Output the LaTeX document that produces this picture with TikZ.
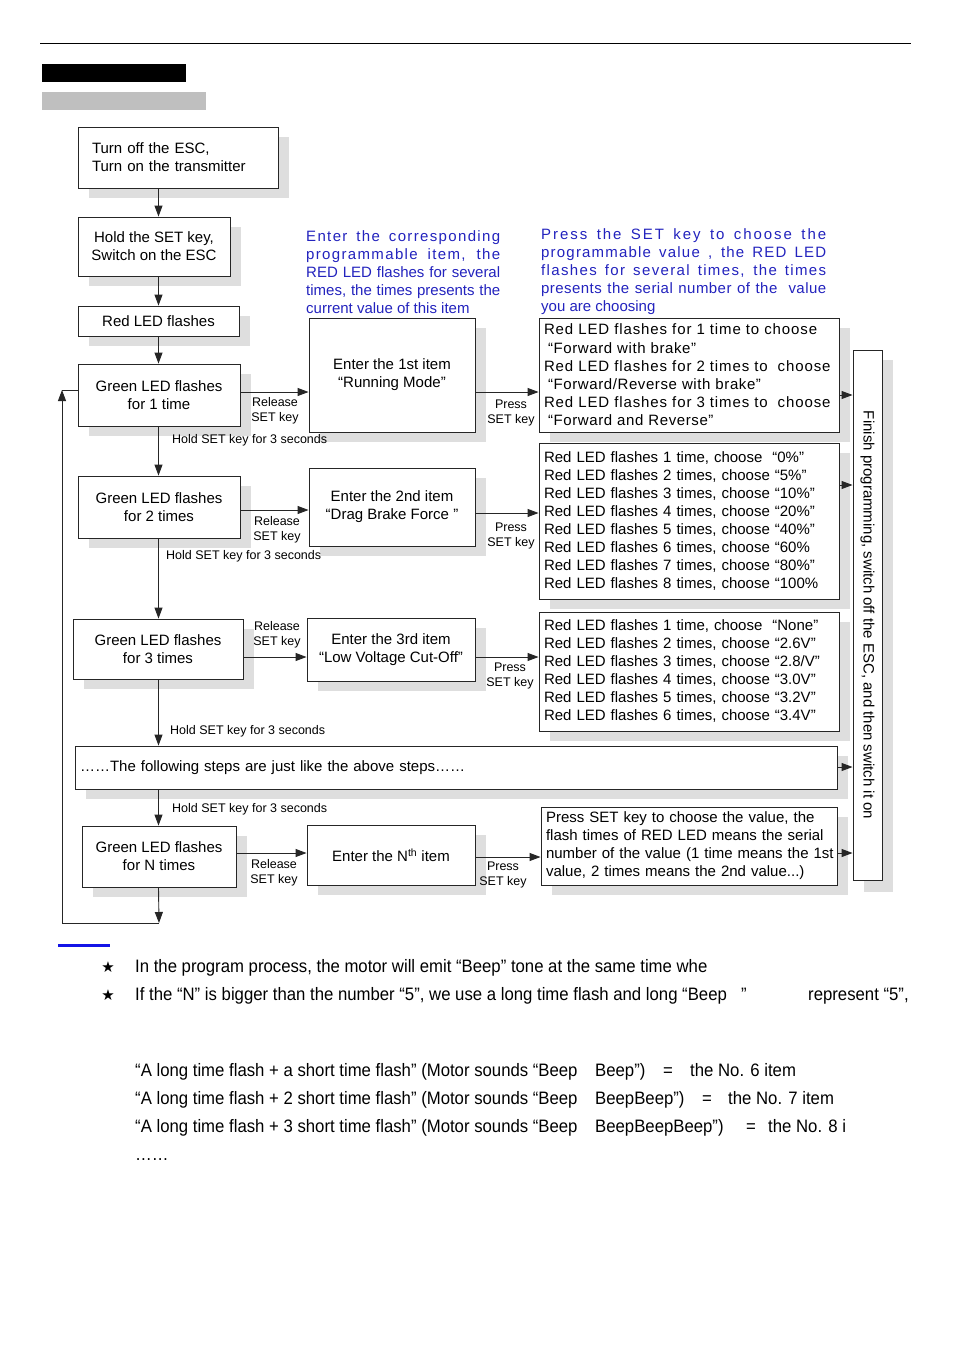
\documentclass[tikz,border=0pt]{standalone}
\usepackage{fontspec}
\setmainfont{Liberation Sans}
\newfontfamily\narrowfont[FakeStretch=0.93]{Liberation Sans}
\newfontfamily\symfont{DejaVu Sans}
\usetikzlibrary{arrows.meta,shadows}
\definecolor{blueT}{RGB}{35,35,190}
\definecolor{blueL}{RGB}{20,20,230}
\newcommand\myfs[2]{\fontsize{#1pt}{#2pt}\selectfont}
\begin{document}
\begin{tikzpicture}[x=1pt,y=-1pt,
  line/.style={draw=black!85, line width=0.9pt},
  arr/.style={line, -{Triangle[length=11pt,width=8pt]}},
  box/.style={line, fill=white, inner sep=0pt, align=center, font=\myfs{15}{18},
     drop shadow={shadow xshift=11pt, shadow yshift=-10pt, fill=black!13, opacity=1}},
  lbl/.style={inner sep=0pt, align=center, font=\myfs{12.5}{15}},
  hold/.style={inner sep=0pt, anchor=west, font=\myfs{12.5}{15}},
  blu/.style={inner sep=0pt, anchor=west, align=left, text=blueT, font=\myfs{15}{18}},
  btxt/.style={inner sep=0pt, anchor=base west, font=\narrowfont\myfs{18}{22}},
  star/.style={inner sep=0pt, anchor=base, font=\symfont\myfs{15}{16}},
]
\fill[white] (0,0) rectangle (954,1350);
\useasboundingbox (0,0) rectangle (954,1350);

% header
\draw[line width=1pt] (40,43) -- (911,43);
\fill[black] (42,64) rectangle (186,82);
\fill[black!25] (42,92) rectangle (206,110);

% coordinates
\coordinate (vx) at (158.5,0);
\coordinate (r1) at (0,392);
\coordinate (r3) at (0,657);
\coordinate (f1) at (0,395);
\coordinate (f2) at (0,485);
\coordinate (f3) at (0,767);
\coordinate (f4) at (0,853);

% left column
\node[box, text width=172pt, inner xsep=14pt, minimum height=61pt, align=left] (b1) at (178,157.5) {Turn off the ESC,\\Turn on the transmitter};
\node[box, minimum width=152pt, minimum height=59pt] (b2) at (154,246.5) {Hold the SET key,\\Switch on the ESC};
\node[box, minimum width=161pt, minimum height=30pt] (b3) at (158.5,321) {Red LED flashes};

% blue texts
\node[blu] (t1) at (306,272) {\makebox[194pt][s]{\addfontfeature{LetterSpace=9}Enter the corresponding}\\
\makebox[194pt][s]{\addfontfeature{LetterSpace=9}programmable item, the}\\
\makebox[194pt][s]{RED LED flashes for several}\\
\makebox[194pt][s]{times, the times presents the}\\
current value of this item};
\node[blu] (t2) at (541,272) {\makebox[285pt][s]{\addfontfeature{LetterSpace=13}Press the SET key to choose the}\\
\makebox[285pt][s]{\addfontfeature{LetterSpace=8}programmable value , the RED LED}\\
\makebox[285pt][s]{\addfontfeature{LetterSpace=9}flashes for several times, the times}\\
\makebox[285pt][s]{\addfontfeature{LetterSpace=3}presents the serial number of the\ \ value}\\
you are choosing};

% row 1
\node[box, minimum width=166pt, minimum height=114pt] (e1) at (392,375) {Enter the 1st item\\“Running Mode”};
\node[box, text width=290pt, inner xsep=5pt, minimum height=114pt, align=left, font=\myfs{15}{18.2}] (v1) at (689,375) {\addfontfeature{LetterSpace=4}%
\makebox[289pt][s]{\addfontfeature{LetterSpace=6}Red LED flashes for 1 time to choose}\\
\hspace*{4pt}“Forward with brake”\\
\makebox[289pt][s]{\addfontfeature{LetterSpace=6}Red LED flashes for 2 times to\ \ choose}\\
\hspace*{4pt}“Forward/Reverse with brake”\\
\makebox[289pt][s]{\addfontfeature{LetterSpace=6}Red LED flashes for 3 times to\ \ choose}\\
\hspace*{4pt}“Forward and Reverse”};
\node[box, minimum width=162pt, minimum height=62pt] (g1) at (159,395) {Green LED flashes\\for 1 time};

% row 2
\node[box, text width=290pt, inner xsep=5pt, minimum height=156pt, align=left, font=\myfs{15}{18}] (v2) at (689,521) {%
Red LED flashes 1 time, choose \ “0\%”\\
Red LED flashes 2 times, choose “5\%”\\
Red LED flashes 3 times, choose “10\%”\\
Red LED flashes 4 times, choose “20\%”\\
Red LED flashes 5 times, choose “40\%”\\
Red LED flashes 6 times, choose “60\%\\
Red LED flashes 7 times, choose “80\%”\\
Red LED flashes 8 times, choose “100\%};
\node[box, minimum width=162pt, minimum height=62pt] (g2) at (159,507) {Green LED flashes\\for 2 times};
\node[box, minimum width=166pt, minimum height=78pt] (e2) at (392,507) {Enter the 2nd item\\“Drag Brake Force ”};

% row 3
\node[box, text width=290pt, inner xsep=5pt, minimum height=119pt, align=left, font=\myfs{15}{18}] (v3) at (689,671.5) {%
Red LED flashes 1 time, choose \ “None”\\
Red LED flashes 2 times, choose “2.6V”\\
Red LED flashes 3 times, choose “2.8/V”\\
Red LED flashes 4 times, choose “3.0V”\\
Red LED flashes 5 times, choose “3.2V”\\
Red LED flashes 6 times, choose “3.4V”};
\node[box, minimum width=170pt, minimum height=60pt] (g3) at (158,649) {Green LED flashes\\for 3 times};
\node[box, minimum width=168pt, minimum height=63pt] (e3) at (391,649.5) {Enter the 3rd item\\“Low Voltage Cut-Off”};

% following
\node[box, text width=752pt, inner xsep=5pt, minimum height=43pt, align=left] (fol) at (456,767.5) {……The following steps are just like the above steps……};

% row N
\node[box, text width=286pt, inner xsep=5pt, minimum height=78pt, align=left, font=\myfs{15}{18}] (vN) at (689,846) {%
\makebox[286pt][s]{Press SET key to choose the value, the}\\
\makebox[286pt][s]{flash times of RED LED means the serial}\\
\makebox[286pt][s]{number of the value (1 time means the 1st}\\
value, 2 times means the 2nd value...)};
\node[box, minimum width=154pt, minimum height=61pt] (gN) at (159,856.5) {Green LED flashes\\for N times};
\node[box, minimum width=168pt, minimum height=60pt] (eN) at (391,855) {Enter the N\textsuperscript{th} item};

% finish box
\node[box, minimum width=29pt, minimum height=530pt, drop shadow={shadow xshift=11pt, shadow yshift=-12pt, fill=black!13, opacity=1}] (fin) at (867.5,615) {};
\node[inner sep=0pt, rotate=-90, font=\myfs{15}{18}] (fint) at (fin.center) {Finish programming, switch off the ESC, and then switch it on};

% vertical arrows
\draw[arr] (b1.south -| vx) -- (b2.north -| vx);
\draw[arr] (b2.south -| vx) -- (b3.north -| vx);
\draw[arr] (b3.south -| vx) -- (g1.north -| vx);
\draw[arr] (g1.south -| vx) -- (g2.north -| vx);
\draw[arr] (g2.south -| vx) -- (g3.north -| vx);
\draw[arr] (g3.south -| vx) -- (fol.north -| vx);
\draw[arr] (fol.south -| vx) -- (gN.north -| vx);

% loop back
\coordinate (lp) at (159,923);
\coordinate (lc) at (62,923);
\coordinate (lt) at (62,390);
\draw[arr] (gN.south -| vx) -- (lp);
\draw[line] (lp) -- (lc);
\draw[arr] (lc) -- (lt);
\draw[line] (lt) -- (g1.west |- lt);

% horizontal arrows
\draw[arr] (g1.east |- r1) -- (e1.west |- r1);
\draw[arr] (e1.east |- r1) -- (v1.west |- r1);
\draw[arr] (g2.east |- 0,510) -- (e2.west |- 0,510);
\draw[arr] (e2.east |- 0,513) -- (v2.west |- 0,513);
\draw[arr] (g3.east |- r3) -- (e3.west |- r3);
\draw[arr] (e3.east |- r3) -- (v3.west |- r3);
\draw[arr] (gN.east |- 0,853) -- (eN.west |- 0,853);
\draw[arr] (eN.east |- 0,857) -- (vN.west |- 0,857);

% to finish
\draw[arr] (v1.east |- f1) -- (fin.west |- f1);
\draw[arr] (v2.east |- f2) -- (fin.west |- f2);
\draw[arr] (fol.east |- f3) -- (fin.west |- f3);
\draw[arr] (vN.east |- f4) -- (fin.west |- f4);

% labels
\node[hold] (h1) at (172,440) {Hold SET key for 3 seconds};
\node[hold] (h2) at (166,556) {Hold SET key for 3 seconds};
\node[hold] (h3) at (170,731) {Hold SET key for 3 seconds};
\node[hold] (h4) at (172,809) {Hold SET key for 3 seconds};
\node[lbl] (l1) at (275,411) {Release\\SET key};
\node[lbl] (l2) at (277,530) {Release\\SET key};
\node[lbl] (l3) at (277,635) {Release\\SET key};
\node[lbl] (l4) at (274,873) {Release\\SET key};
\node[lbl] (p1) at (511,413) {Press\\SET key};
\node[lbl] (p2) at (511,536) {Press\\SET key};
\node[lbl] (p3) at (510,676) {Press\\SET key};
\node[lbl] (p4) at (503,875) {Press\\SET key};

% notes
\fill[blueL] (58,944) rectangle (110,946.5);
\node[star] (s1) at (108,972) {★};
\node[star] (s2) at (108,1000) {★};
\node[btxt] (n1) at (135,972) {In the program process, the motor will emit “Beep” tone at the same time whe};
\node[btxt] (n2) at (135,1000) {If the “N” is bigger than the number “5”, we use a long time flash and long “Beep};
\node[btxt] (n2b) at (741,1000) {”};
\node[btxt] (n2c) at (808,1000) {represent “5”,};
\node[btxt] (n3) at (135,1076) {“A long time flash + a short time flash” (Motor sounds “Beep};
\node[btxt] (n3b) at (595,1076) {Beep”)};
\node[btxt] (n3c) at (663,1076) {=};
\node[btxt] (n3d) at (690,1076) {the No. 6 item};
\node[btxt] (n4) at (135,1104) {“A long time flash + 2 short time flash” (Motor sounds “Beep};
\node[btxt] (n4b) at (595,1104) {BeepBeep”)};
\node[btxt] (n4c) at (702,1104) {=};
\node[btxt] (n4d) at (728,1104) {the No. 7 item};
\node[btxt] (n5) at (135,1132) {“A long time flash + 3 short time flash” (Motor sounds “Beep};
\node[btxt] (n5b) at (595,1132) {BeepBeepBeep”)};
\node[btxt] (n5c) at (746,1132) {=};
\node[btxt] (n5d) at (768,1132) {the No. 8 i};
\node[btxt] (n6) at (135,1160) {……};
\end{tikzpicture}
\end{document}
